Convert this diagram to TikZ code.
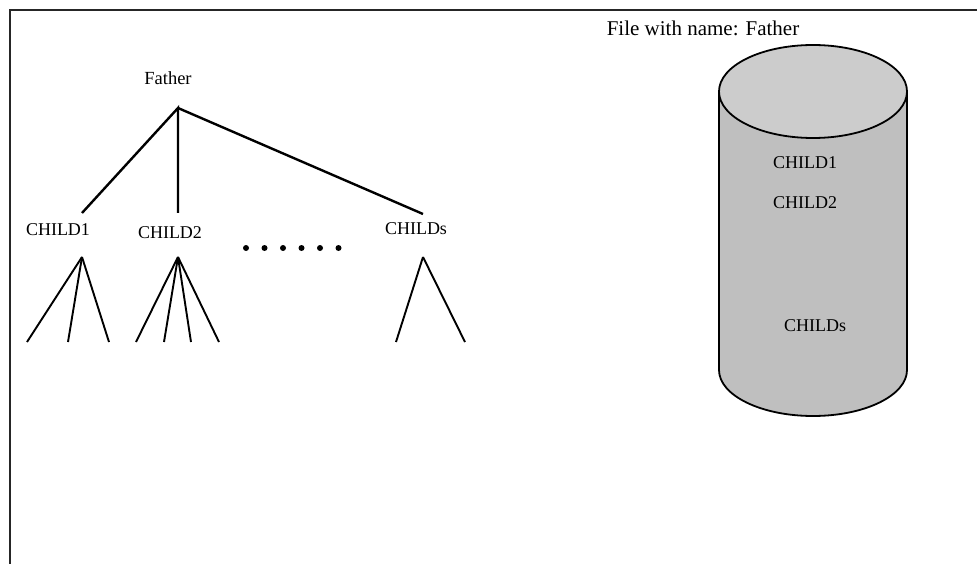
\documentclass[tikz,border=0pt]{standalone}
\usepackage{fontspec}
\setmainfont{Liberation Serif}
\begin{document}
\begin{tikzpicture}[x=1pt,y=-1pt,
  lbl/.style={anchor=base,inner sep=0pt,font=\fontsize{18}{20}\selectfont},
  edge/.style={line width=2.4pt},
  twig/.style={line width=1.9pt},
  frame/.style={line width=2pt,draw=black!85}]
\useasboundingbox (0,0) rectangle (977,564);
% frame
\draw[frame] (9.5,564) -- (9.5,10) -- (977,10);
% tree
\node[lbl,font=\fontsize{18.5}{20}\selectfont] (father) at (168,85) {Father};
\coordinate (fj) at (178,108);
\node[lbl] (c1) at (58,236) {CHILD1};
\node[lbl] (c2) at (170,238) {CHILD2};
\node[lbl] (cs) at (416,234) {CHILDs};
\coordinate (c1t) at (82,213);
\coordinate (c2t) at (178,213);
\coordinate (cst) at (423,214);
\draw[edge] (c1t) -- (fj) -- (c2t);
\draw[edge] (fj) -- (cst);
% dots
\foreach \i/\xx in {1/246,2/264.5,3/283,4/301.5,5/320,6/338.5}
  \fill (\xx,248) circle (3) coordinate (dot\i);
% subtrees
\coordinate (a1) at (82,257);
\coordinate (a2) at (178,257);
\coordinate (a3) at (423,257);
\foreach \xx in {27,68,109} \draw[twig] (a1) -- (\xx,342);
\foreach \xx in {136,164,191,219} \draw[twig] (a2) -- (\xx,342);
\foreach \xx in {396,465} \draw[twig] (a3) -- (\xx,342);
% file label
\node[anchor=base,inner sep=0pt,font=\fontsize{21}{23}\selectfont] (file) at (703,36) {File with name: Father};
% cylinder
\fill[fill=black!25] (719,91.5) -- (719,370) arc[start angle=180,end angle=0,x radius=94,y radius=46] -- (907,91.5) -- cycle;
\draw[line width=1.8pt] (719,91.5) -- (719,370) arc[start angle=180,end angle=0,x radius=94,y radius=46] -- (907,91.5);
\draw[line width=1.8pt,fill=black!20] (813,91.5) ellipse[x radius=94,y radius=46.5];
\node[lbl] (k1) at (805,169) {CHILD1};
\node[lbl] (k2) at (805,208) {CHILD2};
\node[lbl] (k3) at (815,331) {CHILDs};
\end{tikzpicture}
\end{document}
